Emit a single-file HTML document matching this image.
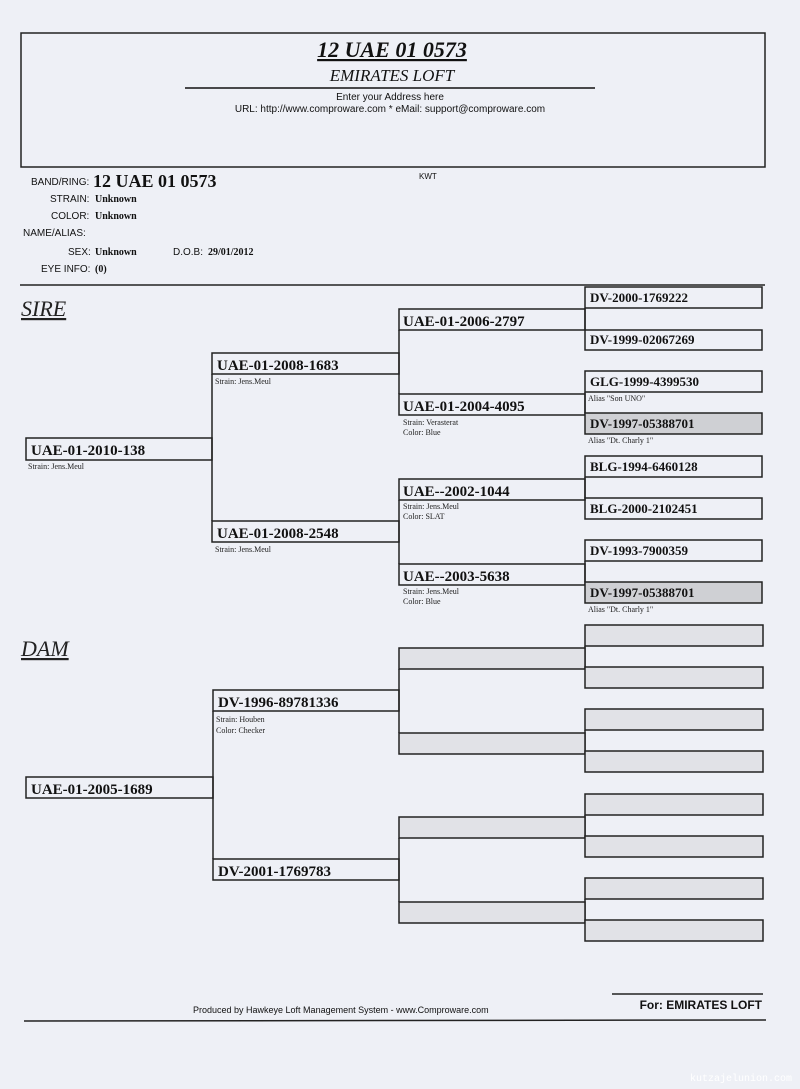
<!DOCTYPE html>
<html><head><meta charset="utf-8"><style>
html,body{margin:0;padding:0;background:#eef0f6;}
svg{display:block}
.s{font-family:"Liberation Sans",sans-serif;}
.t{font-family:"Liberation Serif",serif;font-weight:bold;}
</style></head><body>
<svg width="800" height="1089" viewBox="0 0 800 1089" xmlns="http://www.w3.org/2000/svg">
<rect x="0" y="0" width="800" height="1089" fill="#eef0f6"/>
<rect x="21" y="33" width="744" height="134" fill="none" stroke="#222" stroke-width="1.5"/>
<text x="392" y="57" text-anchor="middle" class="t" font-style="italic" font-size="22" fill="#111" text-decoration="underline">12 UAE 01 0573</text>
<text x="392" y="81" text-anchor="middle" font-family="Liberation Serif,serif" font-style="italic" font-size="17" fill="#111">EMIRATES LOFT</text>
<line x1="185" y1="88" x2="595" y2="88" stroke="#111" stroke-width="1.5"/>
<text x="390" y="100" text-anchor="middle" class="s" font-size="10" fill="#111">Enter your Address here</text>
<text x="390" y="112" text-anchor="middle" class="s" font-size="10" fill="#111">URL: http://www.comproware.com * eMail: support@comproware.com</text>

<g class="s" font-size="10" fill="#111">
<text x="31" y="185">BAND/RING:</text>
<text x="93" y="187" class="t" font-size="18">12 UAE 01 0573</text>
<text x="419" y="179" font-size="8">KWT</text>
<text x="50" y="202">STRAIN:</text><text x="95" y="202" class="t" font-size="10">Unknown</text>
<text x="51" y="219">COLOR:</text><text x="95" y="219" class="t" font-size="10">Unknown</text>
<text x="23" y="236">NAME/ALIAS:</text>
<text x="68" y="255">SEX:</text><text x="95" y="255" class="t" font-size="10">Unknown</text>
<text x="173" y="255">D.O.B:</text><text x="208" y="255" class="t" font-size="10">29/01/2012</text>
<text x="41" y="272">EYE INFO:</text><text x="95" y="272" class="t" font-size="10">(0)</text>
</g>
<line x1="20" y1="285" x2="765" y2="285" stroke="#222" stroke-width="1.5"/>
<text x="21" y="316" font-family="Liberation Serif,serif" font-style="italic" font-size="22" fill="#222" text-decoration="underline">SIRE</text>
<text x="21" y="656" font-family="Liberation Serif,serif" font-style="italic" font-size="22" fill="#222" text-decoration="underline">DAM</text>

<g stroke="#222" stroke-width="1.5">
<line x1="212" y1="374" x2="212" y2="521"/>
<line x1="399" y1="330" x2="399" y2="394"/>
<line x1="399" y1="500" x2="399" y2="564"/>
<line x1="585" y1="308" x2="585" y2="330"/>
<line x1="585" y1="392" x2="585" y2="413"/>
<line x1="585" y1="477" x2="585" y2="498"/>
<line x1="585" y1="561" x2="585" y2="582"/>
<line x1="213" y1="711" x2="213" y2="859"/>
<line x1="399" y1="669" x2="399" y2="733"/>
<line x1="399" y1="838" x2="399" y2="902"/>
<line x1="585" y1="646" x2="585" y2="667"/>
<line x1="585" y1="730" x2="585" y2="751"/>
<line x1="585" y1="815" x2="585" y2="836"/>
<line x1="585" y1="899" x2="585" y2="920"/>
</g>

<g stroke="#222" stroke-width="1.5" fill="none">
<rect x="26" y="438" width="186" height="22"/>
<rect x="212" y="353" width="187" height="21"/>
<rect x="212" y="521" width="187" height="21"/>
<rect x="399" y="309" width="186" height="21"/>
<rect x="399" y="394" width="186" height="21"/>
<rect x="399" y="479" width="186" height="21"/>
<rect x="399" y="564" width="186" height="21"/>
<rect x="585" y="287" width="177" height="21"/>
<rect x="585" y="330" width="177" height="20"/>
<rect x="585" y="371" width="177" height="21"/>
<rect x="585" y="413" width="177" height="21" fill="#cfd0d4"/>
<rect x="585" y="456" width="177" height="21"/>
<rect x="585" y="498" width="177" height="21"/>
<rect x="585" y="540" width="177" height="21"/>
<rect x="585" y="582" width="177" height="21" fill="#cfd0d4"/>

<rect x="26" y="777" width="187" height="21"/>
<rect x="213" y="690" width="186" height="21"/>
<rect x="213" y="859" width="186" height="21"/>
<g fill="#e1e2e7">
<rect x="399" y="648" width="186" height="21"/>
<rect x="399" y="733" width="186" height="21"/>
<rect x="399" y="817" width="186" height="21"/>
<rect x="399" y="902" width="186" height="21"/>
<rect x="585" y="625" width="178" height="21"/>
<rect x="585" y="667" width="178" height="21"/>
<rect x="585" y="709" width="178" height="21"/>
<rect x="585" y="751" width="178" height="21"/>
<rect x="585" y="794" width="178" height="21"/>
<rect x="585" y="836" width="178" height="21"/>
<rect x="585" y="878" width="178" height="21"/>
<rect x="585" y="920" width="178" height="21"/>
</g>
</g>

<g class="t" font-size="15" fill="#111">
<text x="31" y="455">UAE-01-2010-138</text>
<text x="217" y="370">UAE-01-2008-1683</text>
<text x="217" y="538">UAE-01-2008-2548</text>
<text x="403" y="326">UAE-01-2006-2797</text>
<text x="403" y="411">UAE-01-2004-4095</text>
<text x="403" y="496">UAE--2002-1044</text>
<text x="403" y="581">UAE--2003-5638</text>
<text x="590" y="302" font-size="13">DV-2000-1769222</text>
<text x="590" y="344" font-size="13">DV-1999-02067269</text>
<text x="590" y="386" font-size="13">GLG-1999-4399530</text>
<text x="590" y="428" font-size="13">DV-1997-05388701</text>
<text x="590" y="471" font-size="13">BLG-1994-6460128</text>
<text x="590" y="513" font-size="13">BLG-2000-2102451</text>
<text x="590" y="555" font-size="13">DV-1993-7900359</text>
<text x="590" y="597" font-size="13">DV-1997-05388701</text>
<text x="31" y="794">UAE-01-2005-1689</text>
<text x="218" y="707">DV-1996-89781336</text>
<text x="218" y="876">DV-2001-1769783</text>
</g>
<g font-family="Liberation Serif,serif" font-size="8" fill="#222">
<text x="28" y="469">Strain: Jens.Meul</text>
<text x="215" y="384">Strain: Jens.Meul</text>
<text x="215" y="552">Strain: Jens.Meul</text>
<text x="403" y="425">Strain: Verasterat</text>
<text x="403" y="435">Color: Blue</text>
<text x="403" y="509">Strain: Jens.Meul</text>
<text x="403" y="519">Color: SLAT</text>
<text x="403" y="594">Strain: Jens.Meul</text>
<text x="403" y="604">Color: Blue</text>
<text x="588" y="401">Alias "Son UNO"</text>
<text x="588" y="443">Alias "Dt. Charly 1"</text>
<text x="588" y="612">Alias "Dt. Charly 1"</text>
<text x="216" y="722">Strain: Houben</text>
<text x="216" y="733">Color: Checker</text>
</g>

<line x1="612" y1="994" x2="763" y2="994" stroke="#222" stroke-width="1.5"/>
<text x="193" y="1013" class="s" font-size="9" fill="#111">Produced by Hawkeye Loft Management System - www.Comproware.com</text>
<text x="762" y="1009" text-anchor="end" class="s" font-weight="bold" font-size="12" fill="#111">For: EMIRATES LOFT</text>
<line x1="24" y1="1021" x2="766" y2="1020" stroke="#222" stroke-width="1.5"/>
<text x="792" y="1081" text-anchor="end" font-family="Liberation Mono,monospace" font-size="10" fill="#fff">kutzajelunion.com</text>
</svg>
</body></html>
